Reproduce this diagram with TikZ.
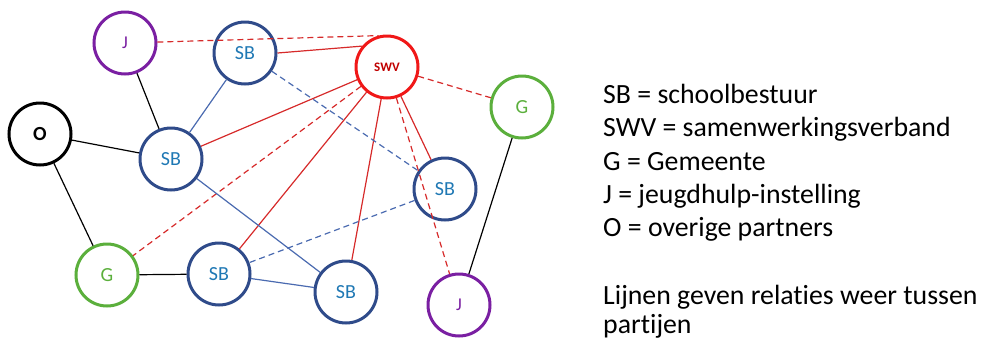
\documentclass[tikz,border=0pt]{standalone}
\usepackage{fontspec}
\setmainfont{Carlito}[Ligatures=NoCommon]
\usetikzlibrary{positioning}
\definecolor{sbline}{HTML}{2F4B8A}
\definecolor{sbtxt}{HTML}{1F78B4}
\definecolor{swvred}{HTML}{F01818}
\definecolor{swvtxt}{HTML}{C00000}
\definecolor{grn}{HTML}{5BAF3C}
\definecolor{prp}{HTML}{7A1FA2}
\definecolor{relred}{HTML}{D62A2A}
\definecolor{relblue}{HTML}{4A6AB0}
\tikzset{
  pt/.style={circle,line width=3pt,minimum size=62pt,inner sep=0pt,font=\fontsize{20}{20}\selectfont},
  sb/.style={pt,draw=sbline,text=sbtxt},
  swv/.style={pt,draw=swvred,text=swvtxt,font=\fontsize{13}{13}\selectfont\bfseries},
  gm/.style={pt,draw=grn,text=grn},
  jh/.style={pt,draw=prp,text=prp,font=\fontsize{18}{18}\selectfont},
  ov/.style={pt,draw=black,font=\fontsize{20}{20}\selectfont\bfseries},
  rel/.style={line width=1.2pt},
  dsh/.style={rel,dash pattern=on 6pt off 4pt},
}
\begin{document}
\begin{tikzpicture}[x=1pt,y=-1pt]
\useasboundingbox (0,0) rectangle (987,338);
% partijen
\node[jh] (j1) at (125,43) {J};
\node[sb] (sb1) at (245,53) {SB};
\node[swv] (swv) at (387,67) {SWV};
\node[gm] (g1) at (522,107) {G};
\node[ov] (o) at (40,134) {O};
\node[sb] (sb2) at (171,159) {SB};
\node[sb] (sb3) at (445,189) {SB};
\node[gm] (g2) at (107,275) {G};
\node[sb] (sb4) at (219,274) {SB};
\node[sb] (sb5) at (346,292) {SB};
\node[jh] (j2) at (459,305) {J};
% relaties
\draw[dsh,relred] (j1) -- (swv.105);
\draw[rel,relred] (sb1.east) -- (swv.140);
\draw[dsh,relred] (swv) -- (g1);
\draw[rel,relred] (swv) -- (sb2);
\draw[dsh,relred] (swv) -- (g2);
\draw[rel,relred] (swv) -- (sb4);
\draw[rel,relred] (swv) -- (sb5);
\draw[rel,relred] (swv) -- (sb3);
\draw[dsh,relred] (swv) -- (j2);
\draw[rel,relblue] (sb1) -- (sb2);
\draw[dsh,relblue] (sb1) -- (sb3);
\draw[rel,relblue] (sb2) -- (sb5);
\draw[dsh,relblue] (sb3) -- (sb4);
\draw[rel,relblue] (sb4) -- (sb5);
\draw[rel] (j1) -- (sb2);
\draw[rel] (o) -- (sb2);
\draw[rel] (o) -- (g2);
\draw[rel] (g2) -- (sb4);
\draw[rel] (g1) -- (j2);
% legenda
\node[anchor=north west,align=left,inner sep=0pt,font=\fontsize{27.8}{33.3}\selectfont] (legend) at (603,84)
  {SB = schoolbestuur\\SWV = samenwerkingsverband\\G = Gemeente\\J = jeugdhulp-instelling\\O = overige partners};
\node[below=43pt of legend.south west,anchor=north west,align=left,inner sep=0pt,font=\fontsize{27.8}{29.5}\selectfont] (note)
  {Lijnen geven relaties weer tussen\\partijen};
\end{tikzpicture}
\end{document}
